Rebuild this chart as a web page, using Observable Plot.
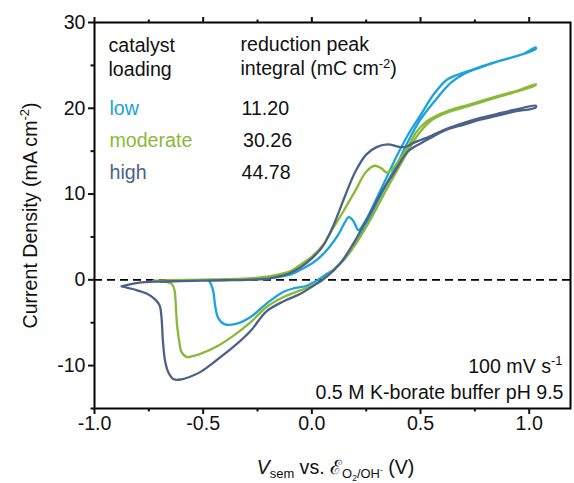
<!DOCTYPE html>
<html>
<head>
<meta charset="utf-8">
<script src="https://cdn.jsdelivr.net/npm/d3@7"></script>
<script src="https://cdn.jsdelivr.net/npm/@observablehq/plot@0.6"></script>
<style>
  html, body { margin: 0; padding: 0; background: #fff; }
  #chart svg { display: block; }
</style>
</head>
<body>
<div id="chart"></div>
<script>
// Cyclic voltammograms for three catalyst loadings.
// Each loop starts at the negative vertex, runs the anodic sweep up to 1.03 V
// and returns along the cathodic sweep (with the reduction peak) to the vertex.

const loadings = ["low", "moderate", "high"];
const integrals = ["11.20", "30.26", "44.78"];
const colors = ["#1da2dc", "#8bb838", "#4c6187"];

const lowPotential = [
  -0.475, -0.40, -0.30, -0.20, -0.15, -0.10, -0.05, 0.00, 0.04, 0.08, 0.12, 0.15, 0.17, 0.19, 0.215,
  0.24, 0.27, 0.30, 0.345, 0.39, 0.44, 0.50, 0.56, 0.62, 0.68, 0.75, 0.82, 0.90, 0.97, 1.03,
  1.03, 0.93, 0.85, 0.78, 0.70, 0.64, 0.58, 0.50, 0.44, 0.40, 0.35, 0.30, 0.25, 0.20, 0.15,
  0.10, 0.07, 0.04, 0.00, -0.03, -0.085, -0.13, -0.21, -0.28, -0.345, -0.40, -0.43, -0.445, -0.453, -0.465, -0.475
];
const lowCurrent = [
  -0.05, 0.0, 0.05, 0.15, 0.35, 0.6, 1.2, 1.9, 2.7, 3.8, 5.2, 6.6, 7.3, 6.9, 5.8,
  6.6, 8.0, 9.6, 12.0, 14.4, 16.8, 19.2, 21.6, 23.3, 24.0, 24.6, 25.2, 25.8, 26.3, 27.1,
  26.9, 26.0, 25.4, 24.8, 24.0, 23.0, 21.3, 18.7, 16.0, 13.9, 11.5, 9.0, 6.4, 4.2, 2.4,
  1.2, 0.7, 0.2, -0.4, -0.75, -1.0, -1.4, -2.8, -4.3, -5.1, -5.2, -4.5, -3.0, -1.4, -0.45, -0.05
];

const moderatePotential = [
  -0.73, -0.65, -0.55, -0.45, -0.35, -0.25, -0.15, -0.10, -0.05, 0.00, 0.05, 0.10, 0.15, 0.20, 0.25,
  0.29, 0.32, 0.345, 0.37, 0.40, 0.44, 0.48, 0.52, 0.58, 0.65, 0.72, 0.80, 0.88, 0.95, 1.03,
  1.03, 0.95, 0.87, 0.78, 0.70, 0.62, 0.55, 0.50, 0.46, 0.42, 0.38, 0.33, 0.28, 0.23, 0.18,
  0.13, 0.08, 0.04, 0.00, -0.05, -0.13, -0.21, -0.28, -0.36, -0.44, -0.51, -0.55, -0.575, -0.60,
  -0.61, -0.62, -0.627, -0.632, -0.646, -0.69, -0.73
];
const moderateCurrent = [
  -0.1, -0.05, 0.0, 0.05, 0.1, 0.25, 0.65, 1.0, 1.8, 2.7, 4.0, 6.1, 8.2, 10.4, 12.6,
  13.3, 13.0, 12.5, 12.9, 13.9, 15.4, 17.2, 18.3, 19.2, 19.9, 20.4, 21.0, 21.6, 22.1, 22.8,
  22.7, 22.0, 21.4, 20.7, 20.1, 19.5, 18.6, 17.3, 15.8, 14.0, 12.2, 9.9, 7.5, 5.3, 3.4,
  1.9, 0.7, -0.2, -0.7, -1.2, -2.0, -3.2, -4.9, -6.5, -7.8, -8.6, -8.9, -9.0, -8.4,
  -7.2, -5.3, -2.5, -1.2, -0.45, -0.2, -0.1
];

const highPotential = [
  -0.875, -0.80, -0.70, -0.60, -0.50, -0.40, -0.30, -0.20, -0.15, -0.10, -0.05, 0.00, 0.05, 0.10, 0.15,
  0.20, 0.25, 0.30, 0.35, 0.40, 0.43, 0.47, 0.55, 0.62, 0.70, 0.78, 0.86, 0.93, 1.03,
  1.03, 0.93, 0.85, 0.78, 0.70, 0.62, 0.55, 0.50, 0.44, 0.38, 0.32, 0.25, 0.19, 0.13, 0.07,
  0.00, -0.05, -0.13, -0.21, -0.28, -0.36, -0.44, -0.51, -0.56, -0.60, -0.635, -0.66, -0.675,
  -0.685, -0.692, -0.70, -0.72, -0.76, -0.82, -0.875
];
const highCurrent = [
  -0.75, -0.35, -0.2, -0.15, -0.1, -0.05, 0.0, 0.15, 0.4, 0.8, 1.5, 2.5, 3.9, 6.4, 9.6,
  12.6, 14.6, 15.5, 15.8, 15.5, 15.5, 16.0, 16.8, 17.6, 18.3, 18.9, 19.4, 19.8, 20.3,
  20.1, 19.6, 19.1, 18.7, 18.1, 17.5, 16.6, 15.9, 14.9, 12.6, 10.2, 6.9, 4.2, 1.9, 0.4,
  -0.8, -1.6, -2.5, -3.7, -5.9, -7.8, -9.4, -10.7, -11.3, -11.6, -11.6, -10.8, -9.5,
  -7.2, -4.3, -3.0, -2.3, -1.6, -1.1, -0.75
];

const xMajorTicks = [-1.0, -0.5, 0.0, 0.5, 1.0];
const xMinorTicks = [-0.75, -0.25, 0.25, 0.75];
const yMajorTicks = [-10, 0, 10, 20, 30];
const yMinorTicks = [-15, -5, 5, 15, 25];

// long table for the line mark
const series = [
  [loadings[0], lowPotential, lowCurrent],
  [loadings[1], moderatePotential, moderateCurrent],
  [loadings[2], highPotential, highCurrent]
];
const rows = series.flatMap(([loading, V, J]) => V.map((v, i) => ({loading, V: v, J: J[i]})));

const font = "'Liberation Sans', Arial, Helvetica, sans-serif";
const fs = 19.6;
const ink = "#111";

const tableRows = loadings.flatMap((name, i) => [
  Plot.text([name], {frameAnchor: "top-left", dx: 15, dy: 79 + i * 32, lineAnchor: "top", fill: colors[i], fontSize: fs}),
  Plot.text([integrals[i]], {frameAnchor: "top-left", dx: 147 + (i === 1 ? 1.5 : 0), dy: 79 + i * 32, lineAnchor: "top", fill: ink, fontSize: fs})
]);

const plot = Plot.plot({
  width: 574,
  height: 483,
  marginLeft: 94,
  marginRight: 4,
  marginTop: 22,
  marginBottom: 75,
  style: {fontFamily: font, fontSize: fs + "px", color: ink, background: "#fff"},
  x: {domain: [-1.0, 1.19]},
  y: {domain: [-15, 30]},
  color: {domain: loadings, range: colors},
  marks: [
    Plot.ruleY([0], {stroke: "#000", strokeWidth: 1.8, strokeDasharray: "8,5"}),
    Plot.line(rows, {x: "V", y: "J", z: "loading", stroke: "loading", strokeWidth: 2.3, curve: "catmull-rom"}),
    Plot.frame({stroke: "#000", strokeWidth: 2}),
    Plot.axisX({ticks: xMajorTicks, tickSize: 6, tickPadding: 2, strokeWidth: 2, label: null,
                tickFormat: d => d.toFixed(1), fontSize: fs}),
    Plot.axisX({ticks: xMinorTicks, tickSize: 3.5, strokeWidth: 2, text: null, label: null}),
    Plot.axisX({anchor: "top", ticks: xMajorTicks, tickSize: 6, strokeWidth: 2, text: null, label: null}),
    Plot.axisX({anchor: "top", ticks: xMinorTicks, tickSize: 3.5, strokeWidth: 2, text: null, label: null}),
    Plot.axisY({ticks: yMajorTicks, tickSize: 6, tickPadding: 3, strokeWidth: 2, label: null,
                tickFormat: d => String(d), fontSize: fs}),
    Plot.axisY({ticks: yMinorTicks, tickSize: 3.5, strokeWidth: 2, text: null, label: null}),
    // header of the loading table
    Plot.text(["catalyst\nloading"], {frameAnchor: "top-left", dx: 14, dy: 12.5, lineAnchor: "top", lineHeight: 1.22, fill: ink, fontSize: fs}),
    Plot.text(["reduction peak\nintegral (mC cm^{-2})"], {frameAnchor: "top-left", dx: 146, dy: 12, lineAnchor: "top", lineHeight: 1.22, fill: ink, fontSize: fs}),
    ...tableRows,
    // measurement conditions
    Plot.text(["100 mV s^{-1}"], {frameAnchor: "bottom-right", dx: -8, dy: -36, textAnchor: "end", lineAnchor: "bottom", fill: ink, fontSize: fs}),
    Plot.text(["0.5 M K-borate buffer pH 9.5"], {frameAnchor: "bottom-right", dx: -7, dy: -10, textAnchor: "end", lineAnchor: "bottom", fill: ink, fontSize: fs}),
    // axis titles
    Plot.text(["Current Density (mA cm^{-2})"], {frameAnchor: "left", dx: -64, rotate: -90, textAnchor: "middle", lineAnchor: "middle", fill: ink, fontSize: fs}),
    Plot.text(["*V*_{sem} vs. ℰ_{O_{2}/OH^{-}} (V)"], {frameAnchor: "bottom", dx: 3, dy: 65, textAnchor: "middle", lineAnchor: "bottom", fill: ink, fontSize: fs})
  ]
});

// Rich text: ^{..} superscript, _{..} subscript, *..* italic
function parseRich(s, size, shift, italic, out) {
  let i = 0, buf = "";
  const flush = () => { if (buf) { out.push({t: buf, size, shift, italic}); buf = ""; } };
  while (i < s.length) {
    const c = s[i];
    if ((c === "^" || c === "_") && s[i + 1] === "{") {
      flush();
      let depth = 0, j = i + 1;
      for (; j < s.length; j++) {
        if (s[j] === "{") depth++;
        else if (s[j] === "}") { depth--; if (depth === 0) break; }
      }
      const inner = s.slice(i + 2, j);
      const sub = size * 0.66;
      parseRich(inner, sub, shift + (c === "^" ? -size * 0.4 : size * 0.22), italic, out);
      i = j + 1;
    } else if (c === "*") {
      flush(); italic = !italic; i++;
    } else { buf += c; i++; }
  }
  flush();
  return out;
}

function richify(node, size) {
  const content = node.textContent;
  if (!/[\^_]\{|\*/.test(content)) return;
  const segs = parseRich(content, size, 0, false, []);
  node.textContent = "";
  let prev = 0;
  for (const seg of segs) {
    const t = document.createElementNS("http://www.w3.org/2000/svg", "tspan");
    t.textContent = seg.t;
    t.setAttribute("font-size", seg.size.toFixed(2) + "px");
    if (seg.italic) t.setAttribute("font-style", "italic");
    if (seg.shift !== prev) t.setAttribute("dy", (seg.shift - prev).toFixed(2));
    prev = seg.shift;
    node.appendChild(t);
  }
}

plot.querySelectorAll("text").forEach(text => {
  const spans = text.querySelectorAll("tspan");
  if (spans.length) spans.forEach(s => richify(s, fs));
  else richify(text, fs);
});

document.getElementById("chart").appendChild(plot);
</script>
</body>
</html>
